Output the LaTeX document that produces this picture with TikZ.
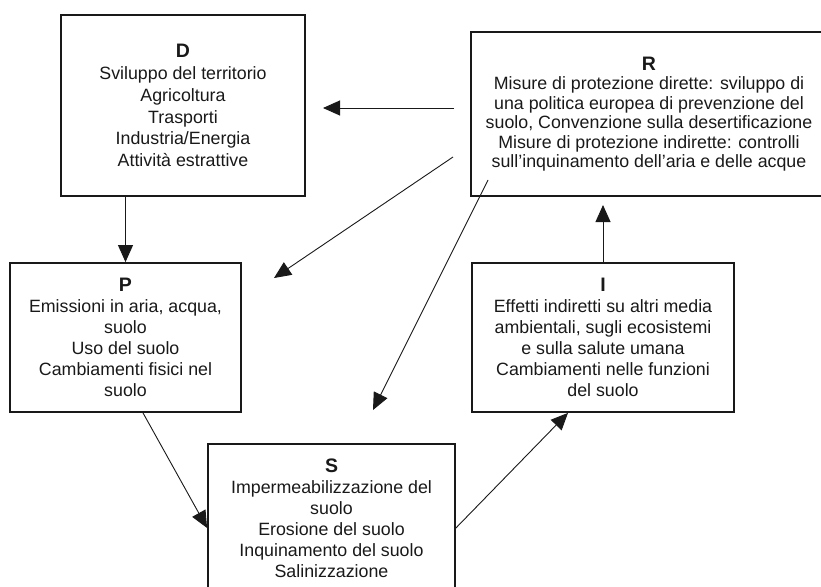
\documentclass[tikz,border=0pt]{standalone}
\usepackage{fontspec}
\setmainfont{Liberation Sans}
\usetikzlibrary{arrows.meta}
\definecolor{inkgray}{RGB}{25,25,25}
\newcommand{\boxlbl}[1]{{\fontsize{19.5}{21}\selectfont\textbf{#1}}}

\begin{document}
\begin{tikzpicture}[x=1pt,y=-1pt,
          blk/.style={draw=inkgray,line width=1.8pt,inner sep=0pt,align=center,
                      font=\fontsize{17.8}{21}\selectfont,text=inkgray},
          arr/.style={-{Triangle[length=17pt,width=15pt]},line width=0.9pt,draw=inkgray}]
        \useasboundingbox (0,0) rectangle (821,586);
        % boxes
        \node[blk,minimum width=244pt,minimum height=181pt,
              font=\fontsize{17.8}{21.8}\selectfont] (D) at (183,105.5)
          {\boxlbl{D}\\Sviluppo del territorio\\Agricoltura\\Trasporti\\Industria/Energia\\Attività estrattive};
        \node[blk,minimum width=356pt,minimum height=164pt,
              font=\fontsize{17.8}{19.5}\selectfont] (R) at (649,114)
          {\boxlbl{R}\\Misure di protezione dirette: sviluppo di\\una politica europea di prevenzione del\\suolo, Convenzione sulla desertificazione\\Misure di protezione indirette: controlli\\sull’inquinamento dell’aria e delle acque};
        \node[blk,minimum width=231pt,minimum height=149pt] (P) at (125.5,337.5)
          {\boxlbl{P}\\Emissioni in aria, acqua,\\suolo\\Uso del suolo\\Cambiamenti fisici nel\\suolo};
        \node[blk,minimum width=262pt,minimum height=149pt] (I) at (603,337.5)
          {\boxlbl{I}\\Effetti indiretti su altri media\\ambientali, sugli ecosistemi\\e sulla salute umana\\Cambiamenti nelle funzioni\\del suolo};
        \node[blk,minimum width=247pt,minimum height=148pt] (S) at (331.5,518)
          {\boxlbl{S}\\Impermeabilizzazione del\\suolo\\Erosione del suolo\\Inquinamento del suolo\\Salinizzazione};
        % free ends
        \coordinate (rd) at (454,108);
        \coordinate (dr) at (323,108);
        \coordinate (rp) at (453,157);
        \coordinate (pr) at (274,278);
        \coordinate (rs) at (488,180);
        \coordinate (sr) at (373,410);
        \coordinate (ir) at (603,205);
        % arrows
        \draw[arr] (D.south -| P.north) -- (P.north);
        \draw[arr] (rd) -- (dr);
        \draw[arr] (rp) -- (pr);
        \draw[arr] (rs) -- (sr);
        \draw[arr] (I.north) -- (ir);
        \draw[arr] ([xshift=17.5pt]P.south) -- ([yshift=-10pt]S.west);
        \draw[arr] ([yshift=-10pt]S.east) -- ([xshift=-35pt]I.south);
      \end{tikzpicture}
\end{document}
